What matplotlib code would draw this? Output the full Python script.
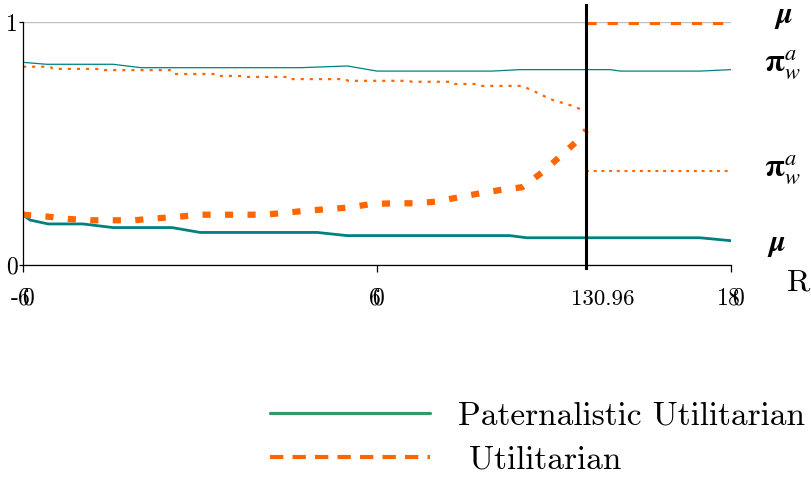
# coding:utf-8
import matplotlib.pyplot as plt
from matplotlib.lines import Line2D

plt.rcParams['font.family'] = 'cmr10'
plt.rcParams['mathtext.fontset'] = 'cm'
plt.rcParams['axes.unicode_minus'] = False

# threshold of R where the utilitarian solution jumps
r_star = 130.96

# paternalistic utilitarian, pi_w^a (thin teal, top)
pu_pi_x = [-60, -52, -29.5, -20, 34, 50, 60, 99, 108.5, 139, 142.5, 169.5, 180]
pu_pi_y = [0.834, 0.826, 0.826, 0.812, 0.812, 0.819, 0.798, 0.798, 0.804, 0.804, 0.798, 0.798, 0.804]

# paternalistic utilitarian, mu (thick teal, bottom)
pu_mu_x = [-60, -57.6, -51.5, -39.7, -29.5, -9.5, 0, 39.7, 49.8, 105, 110.8, 169.5, 180]
pu_mu_y = [0.206, 0.185, 0.169, 0.169, 0.154, 0.154, 0.134, 0.134, 0.121, 0.121, 0.112, 0.112, 0.100]

# utilitarian, pi_w^a (dotted orange)
u_pi_x = [-60, -50.8, -49.8, -34.9, -33.9, -10.2, -9.2, 5.1, 5.8, 14.6, 15.6, 29.8, 30.5,
          49.2, 50.2, 70.5, 71.9, 85.4, 86.4, 94.2, 95.6, 109.2, 113.6, 117, 120.3,
          123.7, 127.1, r_star]
u_pi_y = [0.816, 0.816, 0.807, 0.807, 0.802, 0.802, 0.786, 0.786, 0.778, 0.778, 0.774, 0.774, 0.765,
          0.765, 0.758, 0.758, 0.754, 0.754, 0.745, 0.745, 0.737, 0.737, 0.713, 0.693, 0.675,
          0.665, 0.651, 0.630]
u_pi_x2 = [r_star, 180]
u_pi_y2 = [0.388, 0.388]

# utilitarian, mu (thick dashed orange)
u_mu_x = [-60, -51.5, -44, -37, -29.8, -22.4, -14.9, -7.8, -0.3, 6.8, 14.2, 21.7, 29.2,
          36.3, 43.7, 50.8, 58, 65.8, 72.9, 80.3, 87.8, 94.9, 102, 109.2, 116.3, 122,
          128.8, r_star]
u_mu_y = [0.207, 0.199, 0.189, 0.184, 0.184, 0.184, 0.192, 0.198, 0.207, 0.207, 0.207, 0.207, 0.215,
          0.224, 0.230, 0.237, 0.251, 0.254, 0.254, 0.261, 0.279, 0.295, 0.309, 0.320, 0.384, 0.446,
          0.521, 0.555]
u_mu_x2 = [r_star, 180]
u_mu_y2 = [0.995, 0.995]

x_ticks = [-60, 60, 180]
x_tick_labels = [r'-$6\!\!0$', r'$6\!\!0$', r'$18\!\!0$']
y_ticks = [0, 1]
y_tick_labels = ['0', '1']
legend_labels = ['Paternalistic Utilitarian', ' Utilitarian']

teal = '#008080'
orange = '#FF6600'

fig = plt.figure(figsize=(8.12, 4.78), dpi=100)
ax = fig.add_axes([23 / 812, 213 / 478, 708 / 812, 243 / 478])

ax.plot(pu_pi_x, pu_pi_y, color=teal, lw=0.9)
ax.plot(pu_mu_x, pu_mu_y, color=teal, lw=2.0)
ax.plot(u_pi_x, u_pi_y, color=orange, lw=1.6, linestyle=(0, (1.4, 2.7)))
ax.plot(u_pi_x2, u_pi_y2, color=orange, lw=1.5, linestyle=(0, (1.4, 2.3)))
ax.plot(u_mu_x, u_mu_y, color=orange, lw=4.5, linestyle=(0, (1.3, 2.3)))
ax.plot(u_mu_x2, u_mu_y2, color=orange, lw=2.3, linestyle=(0, (3.2, 3.4)))
ax.axvline(r_star, ymin=-0.012, ymax=1.07, color='black', lw=2.2, clip_on=False)

ax.set_xlim(-60, 180)
ax.set_ylim(0, 1)
ax.set_xticks(x_ticks, x_tick_labels)
ax.set_yticks(y_ticks, y_tick_labels)
ax.tick_params(axis='x', length=5, width=0.9, pad=11, labelsize=17)
ax.tick_params(axis='y', length=3, width=0.9, pad=1, labelsize=17)
ax.yaxis.grid(True, color='#c0c0c0', lw=1)
ax.set_axisbelow(True)
for side in ['top', 'right']:
    ax.spines[side].set_visible(False)
for side in ['left', 'bottom']:
    ax.spines[side].set_linewidth(0.9)

ax.annotate('130.96', xy=(r_star, 0), xytext=(11.5, -25), textcoords='offset points',
            ha='center', va='center', fontsize=16.5)

# labels of the curves on the right
ax.text(198, 1.02, r'$\mathbfit{\mu}$', math_fontfamily='stix', fontsize=22,
        ha='center', va='center', clip_on=False)
ax.text(197.5, 0.82, r'$\mathbf{\pi}_{\mathit{w}}^{\mathit{a}}$', math_fontfamily='stix', fontsize=23,
        ha='center', va='center', clip_on=False)
ax.text(197.5, 0.39, r'$\mathbf{\pi}_{\mathit{w}}^{\mathit{a}}$', math_fontfamily='stix', fontsize=23,
        ha='center', va='center', clip_on=False)
ax.text(195.5, 0.08, r'$\mathbfit{\mu}$', math_fontfamily='stix', fontsize=22,
        ha='center', va='center', clip_on=False)
ax.text(202.8, -0.074, 'R', fontsize=23, ha='center', va='center', clip_on=False)

handles = [Line2D([], [], color='#339966', lw=2.3, solid_capstyle='round'),
           Line2D([], [], color=orange, lw=3, linestyle=(0, (3.2, 2.2)))]
fig.legend(handles, legend_labels, loc='upper left', bbox_to_anchor=(270 / 812, 1 - 401 / 478),
           frameon=False, fontsize=24, handlelength=4.8, handletextpad=0.85,
           labelspacing=0.45, borderpad=0, borderaxespad=0)

fig.savefig('out.png', dpi=100)
